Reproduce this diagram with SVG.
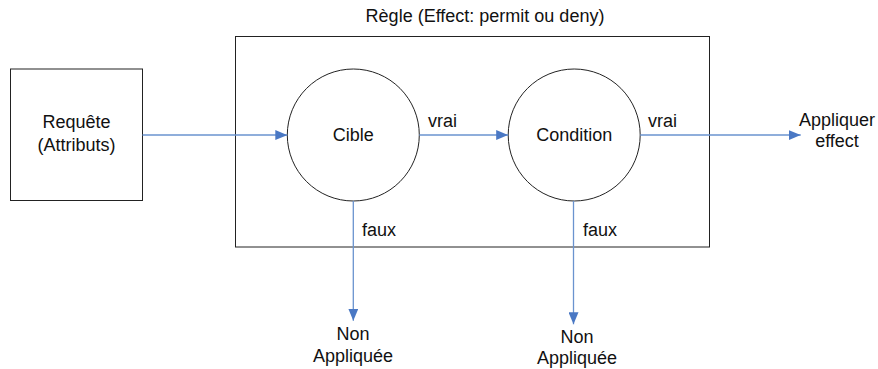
<svg xmlns="http://www.w3.org/2000/svg" width="878" height="369" viewBox="0 0 878 369">
<defs>
<marker id="arr" markerWidth="12" markerHeight="10" refX="12" refY="5" orient="auto" markerUnits="userSpaceOnUse">
<path d="M0,0 L12,5 L0,10 Z" fill="#4a78c4"/>
</marker>
<style>
text{font-family:"Liberation Sans",Arial,sans-serif;font-size:18px;fill:#111}
.box{fill:#fff;stroke:#222;stroke-width:1}
.c{fill:none;stroke:#6a93cf;stroke-width:1.3}
.m{text-anchor:middle}
</style>
</defs>
<rect width="878" height="369" fill="#fff"/>
<g id="regle">
<rect class="box" x="235.5" y="36.5" width="474" height="210.5"/>
<text class="m" x="485" y="22">Règle (Effect: permit ou deny)</text>
</g>
<g id="requete">
<rect class="box" x="10.5" y="69" width="132" height="131.5"/>
<text class="m" x="76.5" y="128">Requête</text>
<text class="m" x="76.5" y="151">(Attributs)</text>
</g>
<g id="cible">
<circle class="box" cx="353.3" cy="135" r="66"/>
<text class="m" x="353.3" y="141">Cible</text>
</g>
<g id="condition">
<circle class="box" cx="574.2" cy="135" r="66"/>
<text class="m" x="574.2" y="141">Condition</text>
</g>
<g id="appliquer">
<text class="m" x="837" y="126">Appliquer</text>
<text class="m" x="837" y="147">effect</text>
</g>
<g id="nonapp1">
<text class="m" x="353" y="340">Non</text>
<text class="m" x="353" y="362">Appliquée</text>
</g>
<g id="nonapp2">
<text class="m" x="577" y="343">Non</text>
<text class="m" x="577" y="364">Appliquée</text>
</g>
<g id="connectors">
<line class="c" x1="142.5" y1="135" x2="287.3" y2="135" marker-end="url(#arr)"/>
<line class="c" x1="419.3" y1="135" x2="508.2" y2="135" marker-end="url(#arr)"/>
<line class="c" x1="640.2" y1="135" x2="800.7" y2="135" marker-end="url(#arr)"/>
<line class="c" x1="353.3" y1="201" x2="353.3" y2="320.7" marker-end="url(#arr)"/>
<line class="c" x1="573.5" y1="201" x2="573.5" y2="324.3" marker-end="url(#arr)"/>
<text x="428" y="127">vrai</text>
<text x="648" y="127">vrai</text>
<text x="362" y="236">faux</text>
<text x="583" y="236">faux</text>
</g>
</svg>
